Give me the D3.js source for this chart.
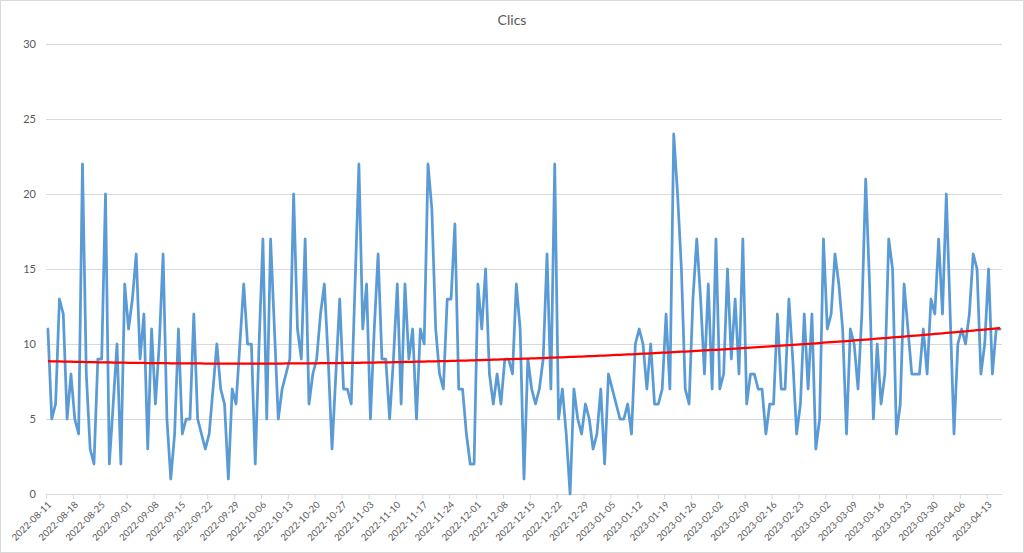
<!DOCTYPE html>
<html><head><meta charset="utf-8">
<script src="https://cdn.jsdelivr.net/npm/d3@7"></script>
<style>
html,body{margin:0;padding:0;background:#fff;}
svg{display:block;font-family:Lato,"Liberation Sans",sans-serif;}
</style></head>
<body><svg id="chart" width="1024" height="553"></svg>
<script>
const chartTitle = "Clics";
const startDate = "2022-08-11";
const endDate = "2023-04-17";
const clics = [11,5,6,13,12,5,8,5,4,22,8,3,2,9,9,20,2,6,10,2,14,11,13,16,9,12,3,11,6,10,16,5,1,4,11,4,5,5,12,5,4,3,4,7,10,7,6,1,7,6,10,14,10,10,2,10,17,5,17,11,5,7,8,9,20,11,9,17,6,8,9,12,14,9,3,8,13,7,7,6,14,22,11,14,5,11,16,9,9,5,9,14,6,14,9,11,5,11,10,22,19,11,8,7,13,13,18,7,7,4,2,2,14,11,15,8,6,8,6,9,9,8,14,11,1,9,7,6,7,9,16,7,22,5,7,4,0,7,5,4,6,5,3,4,7,2,8,7,6,5,5,6,4,10,11,10,7,10,6,6,7,12,7,24,20,15,7,6,13,17,13,8,14,7,17,7,8,15,9,13,8,17,6,8,8,7,7,4,6,6,12,7,7,13,9,4,6,12,7,12,3,5,17,11,12,16,14,11,4,11,10,7,12,21,14,5,10,6,8,17,15,4,6,14,11,8,8,8,11,8,13,12,17,12,20,12,4,10,11,10,12,16,15,8,10,15,8,11,11];
const xTickLabels = ["2022-08-11","2022-08-18","2022-08-25","2022-09-01","2022-09-08","2022-09-15","2022-09-22","2022-09-29","2022-10-06","2022-10-13","2022-10-20","2022-10-27","2022-11-03","2022-11-10","2022-11-17","2022-11-24","2022-12-01","2022-12-08","2022-12-15","2022-12-22","2022-12-29","2023-01-05","2023-01-12","2023-01-19","2023-01-26","2023-02-02","2023-02-09","2023-02-16","2023-02-23","2023-03-02","2023-03-09","2023-03-16","2023-03-23","2023-03-30","2023-04-06","2023-04-13"];
const yTicks = [0,5,10,15,20,25,30];

const parse = d3.utcParse("%Y-%m-%d");
const dates = d3.utcDay.range(parse(startDate), parse(endDate)).slice(0, clics.length);
const data = dates.map((d,i)=>({date:d, mid:d3.utcHour.offset(d,12), v:clics[i]}));

const svg = d3.select("#chart");
const W=1024,H=553;
svg.append("rect").attr("x",0.5).attr("y",0.5).attr("width",W-1).attr("height",H-1)
  .attr("fill","#fff").attr("stroke","#d9d9d9");

const x = d3.scaleUtc().domain([parse(startDate), parse(endDate)]).range([46,1002]);
const y = d3.scaleLinear().domain([0,30]).range([494,44]);

// gridlines
svg.append("g").selectAll("line").data(yTicks.filter(t=>t>0)).join("line")
  .attr("x1",46).attr("x2",1002).attr("y1",d=>y(d)).attr("y2",d=>y(d))
  .attr("stroke","#d9d9d9").attr("stroke-width",1).attr("shape-rendering","crispEdges");

// y axis labels
const yAxis = d3.axisLeft(y).tickValues(yTicks).tickSize(0).tickPadding(10);
const gy = svg.append("g").attr("transform","translate(46,0)").call(yAxis);
gy.select(".domain").remove();
gy.selectAll("text").attr("fill","#595959").style("font-size","11px").style("font-family","Lato,'Liberation Sans',sans-serif");

// x axis
const tickDates = xTickLabels.map(parse);
const xAxis = d3.axisBottom(x).tickValues(tickDates).tickSize(5).tickFormat(d3.utcFormat("%Y-%m-%d"));
const gx = svg.append("g").attr("transform","translate(0,494)").call(xAxis);
gx.select(".domain").attr("stroke","#d9d9d9").attr("d","M46,0.5H1002");
gx.selectAll(".tick line").attr("stroke","#d9d9d9");
gx.selectAll("text").attr("fill","#595959").style("font-size","9.5px")
  .style("font-family","Lato,'Liberation Sans',sans-serif")
  .attr("text-anchor","end").attr("dy","0.35em")
  .attr("transform","translate(3,9) rotate(-45)").attr("y",0).attr("x",0);

// series line
const line = d3.line().x(d=>x(d.mid)).y(d=>y(d.v));
svg.append("path").datum(data).attr("d",line).attr("fill","none")
  .attr("stroke","#5b9bd5").attr("stroke-width",2.75).attr("stroke-linejoin","round").attr("stroke-linecap","round");

// polynomial (order 2) trendline from least squares
const ts = data.map((d,i)=>i+1);
let S=[0,0,0,0,0], T=[0,0,0];
ts.forEach((t,i)=>{const v=clics[i];for(let k=0;k<5;k++)S[k]+=Math.pow(t,k);for(let k=0;k<3;k++)T[k]+=v*Math.pow(t,k);});
function solve3(A,b){const M=A.map((r,i)=>[...r,b[i]]);for(let c=0;c<3;c++){let p=c;for(let r=c+1;r<3;r++)if(Math.abs(M[r][c])>Math.abs(M[p][c]))p=r;[M[c],M[p]]=[M[p],M[c]];for(let r=0;r<3;r++){if(r===c)continue;const f=M[r][c]/M[c][c];for(let k=c;k<4;k++)M[r][k]-=f*M[c][k];}}return M.map((r,i)=>r[3]/r[i]);}
const coef = solve3([[S[0],S[1],S[2]],[S[1],S[2],S[3]],[S[2],S[3],S[4]]],T);
const trend = data.map((d,i)=>({mid:d.mid, v:coef[0]+coef[1]*ts[i]+coef[2]*ts[i]*ts[i]}));
svg.append("path").datum(trend).attr("d",line).attr("fill","none")
  .attr("stroke","#ff0000").attr("stroke-width",2.25);

// title
svg.append("text").attr("x",512).attr("y",25).attr("text-anchor","middle")
  .attr("fill","#595959").style("font-size","14px").text(chartTitle);
</script></body></html>
